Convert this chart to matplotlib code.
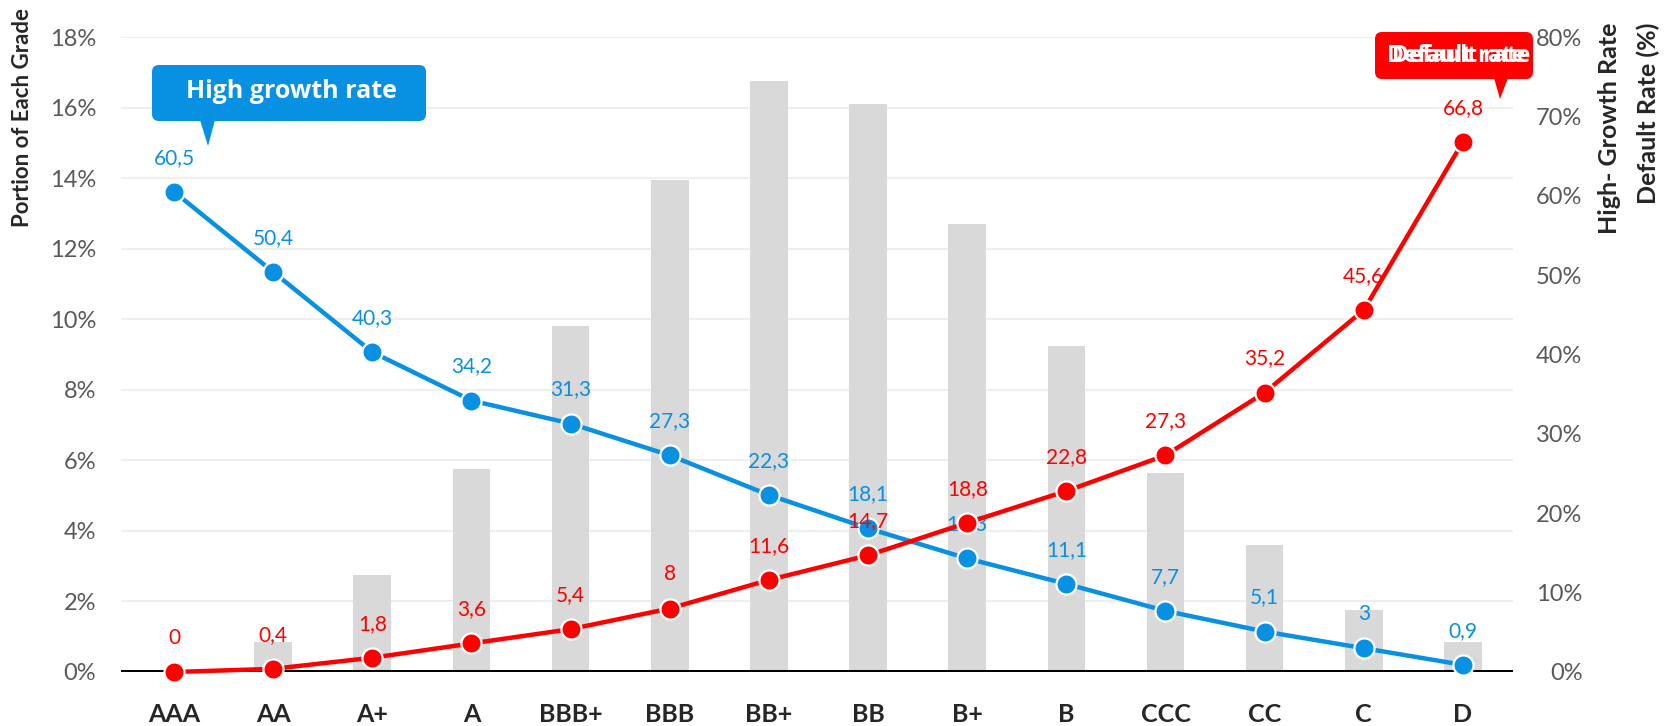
import matplotlib
matplotlib.use("Agg")
import matplotlib.pyplot as plt
from matplotlib import font_manager
from matplotlib.patches import FancyBboxPatch, Polygon
import numpy as np

grades = ["AAA", "AA", "A+", "A", "BBB+", "BBB", "BB+", "BB", "B+", "B", "CCC", "CC", "C", "D"]
portion = [0.0, 0.85, 2.75, 5.75, 9.8, 13.95, 16.75, 16.1, 12.7, 9.25, 5.65, 3.6, 1.75, 0.85]
high_growth = [60.5, 50.4, 40.3, 34.2, 31.3, 27.3, 22.3, 18.1, 14.3, 11.1, 7.7, 5.1, 3, 0.9]
default_rate = [0, 0.4, 1.8, 3.6, 5.4, 8, 11.6, 14.7, 18.8, 22.8, 27.3, 35.2, 45.6, 66.8]

left_ticks = list(range(0, 19, 2))
right_ticks = list(range(0, 81, 10))

BLUE = "#0890E3"
RED = "#FF0000"
BAR = "#D9D9D9"
GRID = "#EFEFEF"
TICK = "#595959"
DARK = "#262626"

W, H = 1665, 726


def pick_font(name, fallback):
    try:
        font_manager.findfont(name, fallback_to_default=False)
        return name
    except Exception:
        return fallback


MAIN = pick_font("Lato", "DejaVu Sans")
CALLOUT = pick_font("Open Sans", MAIN)
plt.rcParams["font.family"] = [MAIN, "DejaVu Sans"]


def comma(v):
    return f"{v:g}".replace(".", ",")


fig = plt.figure(figsize=(W / 100, H / 100), dpi=100)

# plot area in pixels: x 121..1513, y 37..672
ax = fig.add_axes([121 / W, 1 - 672 / H, (1513 - 121) / W, (672 - 37) / H])
ax2 = ax.twinx()

x = np.arange(len(grades))
ax.bar(x, portion, width=0.38, color=BAR, zorder=1)
for t in left_ticks[1:]:
    ax.axhline(t, color=GRID, lw=1.5, zorder=0)
ax.axhline(0, color="black", lw=2.9, zorder=2)

ax.set_xlim(-0.535, len(grades) - 1 + 0.505)
ax.set_ylim(0, 18)
ax.set_yticks(left_ticks)
ax.set_yticklabels([f"{t}%" for t in left_ticks])
ax.tick_params(axis="y", length=0, pad=18, labelsize=17, labelcolor=TICK)
ax.set_xticks(x)
ax.set_xticklabels(grades, fontweight="bold", fontsize=18, color=DARK)
ax.tick_params(axis="x", length=0, pad=22)

ax2.set_ylim(0, 80)
ax2.set_yticks(right_ticks)
ax2.set_yticklabels([f"{t}%" for t in right_ticks], ha="right")
ax2.tick_params(axis="y", length=0, pad=50, labelsize=17, labelcolor=TICK)

for a in (ax, ax2):
    for s in a.spines.values():
        s.set_visible(False)


def draw_series(vals, color, z):
    ax2.plot(x, vals, color=color, lw=3.2, marker="o", markersize=14.5,
             markerfacecolor=color, markeredgecolor="white", markeredgewidth=1.6,
             zorder=z, clip_on=False)
    for xi, v in zip(x, vals):
        ax2.annotate(comma(v), (xi, v), xytext=(0, 24.5), textcoords="offset points",
                     ha="center", va="center", fontsize=15, color=color, zorder=z + 1)


draw_series(high_growth, BLUE, 3)
draw_series(default_rate, RED, 5)

# overlay in pixel coordinates for callouts and axis titles
ov = fig.add_axes([0, 0, 1, 1], zorder=10)
ov.set_xlim(0, W)
ov.set_ylim(H, 0)
ov.axis("off")
ov.patch.set_visible(False)


def callout(x0, y0, x1, y1, tip, base, color, text, tx, ty, size, double=False):
    ov.add_patch(FancyBboxPatch((x0, y0), x1 - x0, y1 - y0,
                                boxstyle="round,pad=0,rounding_size=7",
                                fc=color, ec="none"))
    ov.add_patch(Polygon([(base[0], y1 - 1), (base[1], y1 - 1), tip], closed=True,
                         fc=color, ec="none"))
    ov.text(tx, ty, text, color="white", fontfamily=CALLOUT, fontweight="bold",
            fontsize=size, ha="center", va="center")
    if double:
        ov.text(tx + 5, ty, text, color="white", fontfamily=CALLOUT, fontweight="bold",
                fontsize=size, ha="center", va="center")


callout(152, 65, 426, 121, (208, 146), (200, 215), BLUE, "High growth rate", 292, 92, 18)
callout(1375, 32, 1533, 79, (1500, 99), (1494, 1508), RED, "Default rate", 1456, 56, 16.5,
        double=True)

ov.text(23, 8, "Portion of Each Grade", rotation=90, ha="center", va="top",
        fontweight="bold", fontsize=16, color=DARK)
ov.text(1610, 23, "High- Growth Rate", rotation=90, ha="center", va="top",
        fontweight="bold", fontsize=18, color=DARK)
ov.text(1648, 23, "Default Rate (%)", rotation=90, ha="center", va="top",
        fontweight="bold", fontsize=18, color=DARK)

fig.savefig("out.png", dpi=100)
